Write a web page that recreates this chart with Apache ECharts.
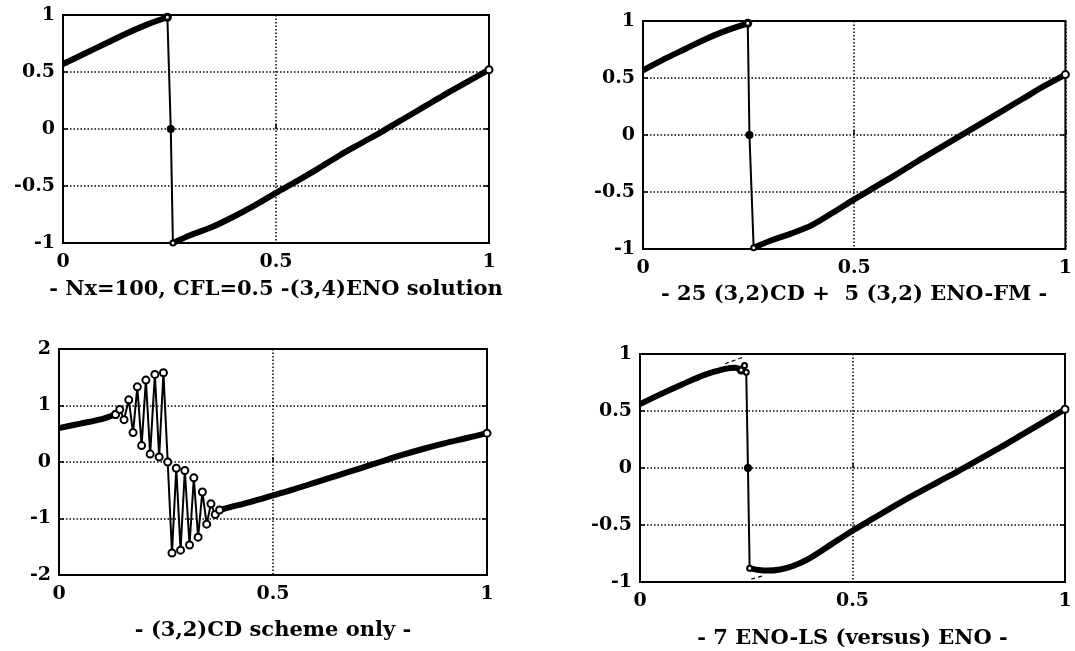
<!DOCTYPE html>
<html>
<head>
<meta charset="utf-8">
<script src="https://cdn.jsdelivr.net/npm/echarts@6.0.0/dist/echarts.min.js"></script>
<style>
  html, body { margin: 0; padding: 0; background: #fff; }
  #main { width: 1075px; height: 651px; }
</style>
</head>
<body>
<div id="main"></div>
<script>
// values, [x, u]
var titles = [
    '- Nx=100, CFL=0.5 -(3,4)ENO solution',
    '- 25 (3,2)CD +  5 (3,2) ENO-FM -',
    '- (3,2)CD scheme only -',
    '- 7 ENO-LS (versus) ENO -'
];

// top left: (3,4)ENO
var p1Left = [[0, 0.57], [0.05, 0.66], [0.1, 0.75], [0.15, 0.84], [0.2, 0.92], [0.245, 0.98]];
var p1Jump = [[0.245, 0.98], [0.253, 0], [0.258, -1]];
var p1Right = [[0.258, -1], [0.3, -0.93], [0.35, -0.86], [0.4, -0.77], [0.45, -0.67], [0.5, -0.56],
    [0.55, -0.455], [0.6, -0.345], [0.65, -0.23], [0.7, -0.125], [0.75, -0.02], [0.8, 0.09],
    [0.85, 0.2], [0.9, 0.31], [0.95, 0.415], [1, 0.52]];

// top right: CD + ENO-FM
var p2Left = [[0, 0.567], [0.05, 0.665], [0.1, 0.755], [0.15, 0.845], [0.2, 0.92], [0.248, 0.98]];
var p2Jump = [[0.248, 0.98], [0.252, 0], [0.262, -0.99]];
var p2Right = [[0.262, -0.99], [0.3, -0.93], [0.35, -0.865], [0.4, -0.79], [0.45, -0.68], [0.5, -0.565],
    [0.55, -0.455], [0.6, -0.345], [0.65, -0.23], [0.7, -0.12], [0.75, -0.01], [0.8, 0.1],
    [0.85, 0.21], [0.9, 0.32], [0.95, 0.43], [1, 0.53]];

// bottom left: CD only, with the oscillations
var p3Left = [[0, 0.6], [0.05, 0.68], [0.1, 0.76], [0.132, 0.84]];
var p3Osc = [[0.132, 0.84], [0.142, 0.93], [0.152, 0.75], [0.163, 1.1], [0.173, 0.52], [0.183, 1.33],
    [0.193, 0.29], [0.203, 1.45], [0.213, 0.14], [0.224, 1.55], [0.234, 0.09], [0.244, 1.58],
    [0.254, 0], [0.264, -1.61], [0.274, -0.11], [0.284, -1.56], [0.294, -0.15], [0.305, -1.47],
    [0.315, -0.28], [0.325, -1.33], [0.335, -0.53], [0.345, -1.1], [0.355, -0.74], [0.365, -0.93],
    [0.375, -0.85]];
var p3Right = [[0.375, -0.85], [0.4, -0.8], [0.45, -0.7], [0.5, -0.59], [0.55, -0.48], [0.6, -0.36],
    [0.65, -0.24], [0.7, -0.12], [0.75, 0], [0.8, 0.12], [0.85, 0.23], [0.9, 0.33], [0.95, 0.42], [1, 0.51]];

// bottom right: ENO-LS, dashed ENO where it shows
var p4Left = [[0, 0.56], [0.05, 0.65], [0.1, 0.735], [0.15, 0.815], [0.2, 0.87], [0.225, 0.88], [0.238, 0.86]];
var p4Jump = [[0.238, 0.86], [0.246, 0.9], [0.25, 0.84], [0.254, 0], [0.258, -0.88]];
var p4Right = [[0.258, -0.88], [0.28, -0.895], [0.3, -0.9], [0.33, -0.89], [0.36, -0.86], [0.4, -0.79],
    [0.45, -0.67], [0.5, -0.55], [0.55, -0.44], [0.6, -0.33], [0.65, -0.225], [0.7, -0.125],
    [0.75, -0.025], [0.8, 0.08], [0.85, 0.185], [0.9, 0.295], [0.95, 0.405], [1, 0.515]];
var p4EnoTop = [[0.2, 0.915], [0.215, 0.935], [0.23, 0.955], [0.245, 0.975]];
var p4EnoBot = [[0.262, -0.975], [0.275, -0.96], [0.29, -0.945]];

var font = 'DejaVu Serif';
var grids = [
    {left: 63, top: 15, width: 426, height: 228},
    {left: 643, top: 21, width: 427, height: 228},
    {left: 59, top: 349, width: 428, height: 226},
    {left: 640, top: 354, width: 425, height: 228}
];
var nameGaps = [36, 35, 45, 46];
var yRange = [[-1, 1, 0.5], [-1, 1, 0.5], [-2, 2, 1], [-1, 1, 0.5]];

function thick(i, data) {
    // last point gets the open circle seen at x = 1
    var d = data.map(function (p, k) {
        return k === data.length - 1 ? {value: p, symbol: 'emptyCircle', symbolSize: 7} : p;
    });
    return {
        type: 'line', xAxisIndex: i, yAxisIndex: i, data: d,
        symbol: 'none', smooth: 0.3,
        lineStyle: {color: '#000', width: 6},
        itemStyle: {color: '#000', borderWidth: 1.5}
    };
}

function thin(i, data, dotIdx, size) {
    var d = data.map(function (p, k) {
        return k === dotIdx ? {value: p, symbol: 'circle', symbolSize: 8, itemStyle: {color: '#000'}} : p;
    });
    return {
        type: 'line', xAxisIndex: i, yAxisIndex: i, data: d,
        symbol: 'emptyCircle', symbolSize: size,
        lineStyle: {color: '#000', width: 2},
        itemStyle: {color: '#000', borderWidth: 1.8}
    };
}

function dashed(i, data) {
    return {
        type: 'line', xAxisIndex: i, yAxisIndex: i, data: data, symbol: 'none',
        lineStyle: {color: '#000', width: 1.2, type: [4, 3]}
    };
}

var tick = {show: true, inside: true, length: 5, lineStyle: {color: '#000', width: 1.5}};
var label = {fontFamily: font, fontWeight: 'bold', fontSize: 19, color: '#000'};
var dots = {show: true, lineStyle: {color: '#000', width: 1.5, type: [1.5, 2]}};

var leftAxes = grids.map(function (g, i) {
    return {
        type: 'value', gridIndex: i, min: yRange[i][0], max: yRange[i][1], interval: yRange[i][2],
        axisLine: {show: false}, axisTick: tick,
        axisLabel: Object.assign({margin: 8}, label),
        splitLine: dots
    };
});
// mirror axes only for the tick marks on the right border
var rightAxes = grids.map(function (g, i) {
    return {
        type: 'value', gridIndex: i, position: 'right',
        min: yRange[i][0], max: yRange[i][1], interval: yRange[i][2],
        axisLine: {show: false}, axisTick: tick, axisLabel: {show: false}, splitLine: {show: false}
    };
});

var option = {
    animation: false,
    backgroundColor: '#fff',
    textStyle: {fontFamily: font, color: '#000'},
    grid: grids.map(function (g) {
        return Object.assign({show: true, borderColor: '#000', borderWidth: 2}, g);
    }),
    xAxis: grids.map(function (g, i) {
        return {
            type: 'value', gridIndex: i, min: 0, max: 1, interval: 0.5,
            name: titles[i], nameLocation: 'middle', nameGap: nameGaps[i],
            nameTextStyle: {fontFamily: font, fontSize: 21, fontWeight: 'bold', color: '#000'},
            axisLine: {show: false}, axisTick: tick,
            axisLabel: Object.assign({margin: 10}, label),
            splitLine: dots
        };
    }),
    yAxis: leftAxes.concat(rightAxes),
    series: [
        thick(0, p1Left), thin(0, p1Jump, 1, 5), thick(0, p1Right),
        thick(1, p2Left), thin(1, p2Jump, 1, 5), thick(1, p2Right),
        thick(2, p3Left), thin(2, p3Osc, -1, 7), thick(2, p3Right),
        dashed(3, p4EnoTop), dashed(3, p4EnoBot),
        thick(3, p4Left), thin(3, p4Jump, 3, 5), thick(3, p4Right)
    ]
};

var chart = echarts.init(document.getElementById('main'));
chart.setOption(option);
</script>
</body>
</html>
